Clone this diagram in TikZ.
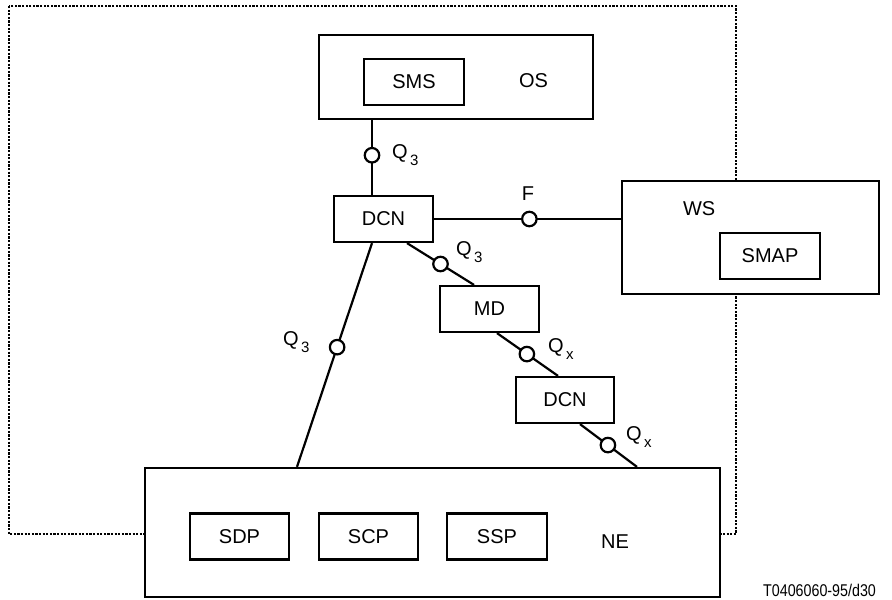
\documentclass[tikz,border=0pt]{standalone}
\usepackage{fontspec}
\setmainfont{Liberation Sans}
\newcommand\lblfont{\fontsize{20}{24}\selectfont}
\newcommand\subfont{\fontsize{15}{15}\selectfont}
\newcommand\Qlab[1]{Q\hspace{2.5pt}\raisebox{-7pt}{\subfont #1}}
\begin{document}
\begin{tikzpicture}[x=1pt,y=-1pt,line width=2.2pt,font=\lblfont,
  box/.style={draw,fill=white,inner sep=0pt,minimum width=99pt,minimum height=46pt},
  bigbox/.style={draw,fill=white,inner sep=0pt},
  iface/.style={circle,draw,fill=white,inner sep=0pt,minimum size=14.5pt,line width=2.2pt},
  lbl/.style={inner sep=0pt,anchor=base west},
  dotline/.style={line width=2.4pt,dash pattern=on 2.2pt off 1.4pt}]
\useasboundingbox (0,0) rectangle (892,600);
\draw[dotline] (9,6) rectangle (736,534);
% big boxes
\node[bigbox,minimum width=274pt,minimum height=84pt] (os) at (456,77) {};
\node[bigbox,minimum width=257pt,minimum height=113pt] (ws) at (750.5,237.5) {};
\node[bigbox,minimum width=575pt,minimum height=129pt] (ne) at (432.5,532.5) {};
% inner boxes
\node[box,minimum width=100pt] (sms) at (414,82) {SMS};
\node[box,minimum width=100pt] (smap) at (770,256) {SMAP};
\node[box] (dcna) at (383.5,219) {DCN};
\node[box] (md) at (489.5,309) {MD};
\node[box,minimum width=98pt] (dcnb) at (565,400) {DCN};
\node[box] (sdp) at (239.5,536.5) {SDP};
\node[box] (scp) at (368.5,536.5) {SCP};
\node[box,minimum width=100pt] (ssp) at (497,536.5) {SSP};
% labels of big boxes
\node[lbl] (oslbl) at (518,87) {OS};
\node[lbl] (wslbl) at (682,215) {WS};
\node[lbl] (nelbl) at (600,548) {NE};
% connectors
\draw ([xshift=-84pt]os.south) -- node[iface,pos=0.47] (c1) {} ([xshift=-11.5pt]dcna.north);
\draw (dcna.east) -- node[iface,pos=0.51] (c2) {} (ws.west |- dcna.east);
\draw ([xshift=23.5pt]dcna.south) -- node[iface,pos=0.5] (c3) {} ([xshift=-15.5pt]md.north);
\draw ([xshift=7.5pt]md.south) -- node[iface,pos=0.49] (c4) {} ([xshift=-7pt]dcnb.north);
\draw ([xshift=15pt]dcnb.south) -- node[iface,pos=0.49] (c5) {} ([xshift=204.5pt]ne.north);
\draw ([xshift=-11.5pt]dcna.south) -- node[iface,pos=0.465] (c6) {} ([xshift=-135.5pt]ne.north);
% interface labels
\node[lbl] (l1) at (391,158) {\Qlab{3}};
\node[inner sep=0pt,anchor=base] (l2) at (528,200) {F};
\node[lbl] (l3) at (455,255) {\Qlab{3}};
\node[lbl] (l4) at (547,352) {\Qlab{x}};
\node[lbl] (l5) at (625,440) {\Qlab{x}};
\node[lbl] (l6) at (282,345) {\Qlab{3}};
% figure code
\node[inner sep=0pt,anchor=base east] (code) at (877,596) {\scalebox{0.84}[1]{\fontsize{17}{17}\selectfont T0406060-95/d30}};
\end{tikzpicture}
\end{document}
